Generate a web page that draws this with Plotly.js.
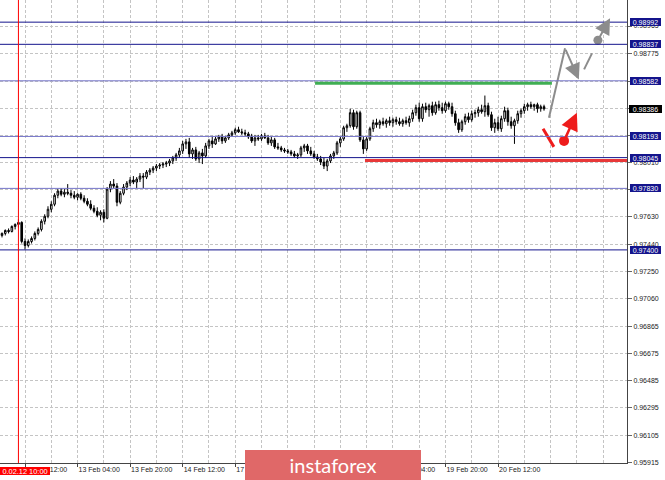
<!DOCTYPE html>
<html>
<head>
<meta charset="utf-8">
<script src="https://cdn.plot.ly/plotly-3.0.1.min.js"></script>
<style>
  html,body{margin:0;padding:0;background:#fff;}
  #chart{width:665px;height:480px;}
</style>
</head>
<body>
<div id="chart"></div>
<script>
// ---- H1 candles (bar index 0 = 12 Feb 12:00) ----
const firstBarIndex = -7;
const openP = [
0.97501,0.97515,0.97536,0.97529,0.97564,0.97578,0.97592,0.97459,0.97431,0.97459,
0.97480,0.97515,0.97543,0.97600,0.97635,0.97684,0.97719,0.97782,0.97811,0.97789,
0.97803,0.97796,0.97782,0.97768,0.97789,0.97761,0.97740,0.97719,0.97691,0.97670,
0.97642,0.97663,0.97621,0.97825,0.97860,0.97846,0.97733,0.97796,0.97839,0.97867,
0.97888,0.97874,0.97895,0.97916,0.97909,0.97944,0.97958,0.97972,0.97986,0.97993,
0.98000,0.98007,0.98022,0.98043,0.98064,0.98092,0.98141,0.98155,0.98071,0.98099,
0.98036,0.98078,0.98057,0.98127,0.98162,0.98141,0.98176,0.98190,0.98162,0.98183,
0.98204,0.98218,0.98240,0.98225,0.98218,0.98211,0.98190,0.98162,0.98183,0.98176,
0.98197,0.98183,0.98148,0.98169,0.98120,0.98113,0.98099,0.98092,0.98085,0.98071,
0.98057,0.98064,0.98113,0.98127,0.98092,0.98071,0.98050,0.98036,0.98014,0.97986,
0.98022,0.98057,0.98078,0.98148,0.98176,0.98254,0.98268,0.98359,0.98261,0.98359,
0.98169,0.98106,0.98176,0.98247,0.98289,0.98275,0.98296,0.98282,0.98303,0.98289,
0.98310,0.98296,0.98282,0.98303,0.98289,0.98317,0.98359,0.98394,0.98317,0.98401,
0.98380,0.98408,0.98359,0.98415,0.98394,0.98373,0.98422,0.98401,0.98352,0.98289,
0.98240,0.98296,0.98331,0.98310,0.98352,0.98359,0.98380,0.98366,0.98408,0.98345,
0.98254,0.98289,0.98247,0.98317,0.98373,0.98296,0.98268,0.98303,0.98352,0.98373,
0.98401,0.98415,0.98401,0.98415,0.98387,0.98401];
const highP = [
0.97522,0.97543,0.97550,0.97571,0.97585,0.97614,0.97600,0.97480,0.97473,0.97494,
0.97529,0.97557,0.97614,0.97649,0.97705,0.97740,0.97796,0.97825,0.97832,0.97825,
0.97860,0.97818,0.97811,0.97796,0.97803,0.97782,0.97761,0.97747,0.97712,0.97698,
0.97677,0.97684,0.97839,0.97881,0.97895,0.97867,0.97811,0.97860,0.97881,0.97909,
0.97916,0.97909,0.97937,0.97937,0.97958,0.97972,0.97986,0.98000,0.98007,0.98014,
0.98022,0.98036,0.98057,0.98078,0.98113,0.98162,0.98176,0.98183,0.98113,0.98120,
0.98092,0.98106,0.98148,0.98176,0.98197,0.98190,0.98204,0.98211,0.98197,0.98218,
0.98232,0.98254,0.98261,0.98247,0.98240,0.98225,0.98211,0.98204,0.98204,0.98211,
0.98218,0.98204,0.98190,0.98183,0.98148,0.98127,0.98113,0.98106,0.98099,0.98092,
0.98078,0.98127,0.98141,0.98141,0.98120,0.98092,0.98071,0.98057,0.98043,0.98036,
0.98071,0.98092,0.98162,0.98190,0.98268,0.98282,0.98387,0.98380,0.98373,0.98373,
0.98197,0.98190,0.98261,0.98310,0.98317,0.98310,0.98324,0.98317,0.98331,0.98324,
0.98331,0.98324,0.98317,0.98331,0.98338,0.98380,0.98415,0.98429,0.98422,0.98429,
0.98422,0.98436,0.98436,0.98443,0.98429,0.98436,0.98436,0.98429,0.98373,0.98317,
0.98310,0.98352,0.98359,0.98373,0.98380,0.98401,0.98415,0.98479,0.98429,0.98366,
0.98317,0.98331,0.98338,0.98401,0.98394,0.98331,0.98317,0.98373,0.98387,0.98422,
0.98429,0.98436,0.98422,0.98429,0.98415,0.98415];
const lowP = [
0.97487,0.97501,0.97515,0.97522,0.97543,0.97557,0.97445,0.97402,0.97417,0.97445,
0.97466,0.97501,0.97529,0.97578,0.97621,0.97663,0.97705,0.97761,0.97775,0.97768,
0.97782,0.97761,0.97754,0.97747,0.97747,0.97726,0.97705,0.97677,0.97656,0.97628,
0.97607,0.97592,0.97614,0.97803,0.97832,0.97705,0.97719,0.97782,0.97818,0.97846,
0.97860,0.97832,0.97874,0.97832,0.97895,0.97923,0.97937,0.97951,0.97965,0.97972,
0.97979,0.97986,0.98000,0.98022,0.98043,0.98071,0.98106,0.98043,0.98036,0.98022,
0.98007,0.98000,0.98043,0.98106,0.98113,0.98134,0.98155,0.98141,0.98148,0.98169,
0.98190,0.98204,0.98218,0.98204,0.98197,0.98176,0.98148,0.98127,0.98162,0.98162,
0.98176,0.98134,0.98127,0.98106,0.98099,0.98085,0.98078,0.98071,0.98057,0.98043,
0.98036,0.98050,0.98085,0.98071,0.98057,0.98036,0.98022,0.97993,0.97965,0.97951,
0.98007,0.98036,0.98064,0.98120,0.98162,0.98225,0.98254,0.98240,0.98247,0.98155,
0.98071,0.98092,0.98162,0.98225,0.98254,0.98247,0.98268,0.98254,0.98268,0.98261,
0.98275,0.98268,0.98261,0.98275,0.98261,0.98296,0.98338,0.98296,0.98296,0.98359,
0.98331,0.98338,0.98345,0.98373,0.98352,0.98359,0.98380,0.98331,0.98268,0.98218,
0.98225,0.98275,0.98289,0.98296,0.98324,0.98331,0.98352,0.98331,0.98331,0.98232,
0.98218,0.98232,0.98225,0.98296,0.98268,0.98247,0.98141,0.98282,0.98324,0.98352,
0.98373,0.98387,0.98373,0.98359,0.98366,0.98373];
const closeP = [
0.97515,0.97536,0.97529,0.97564,0.97578,0.97592,0.97459,0.97431,0.97459,0.97480,
0.97515,0.97543,0.97600,0.97635,0.97684,0.97719,0.97782,0.97811,0.97789,0.97803,
0.97796,0.97782,0.97768,0.97789,0.97761,0.97740,0.97719,0.97691,0.97670,0.97642,
0.97663,0.97621,0.97825,0.97860,0.97846,0.97733,0.97796,0.97839,0.97867,0.97888,
0.97874,0.97895,0.97916,0.97909,0.97944,0.97958,0.97972,0.97986,0.97993,0.98000,
0.98007,0.98022,0.98043,0.98064,0.98092,0.98141,0.98155,0.98071,0.98099,0.98036,
0.98078,0.98057,0.98127,0.98162,0.98141,0.98176,0.98190,0.98162,0.98183,0.98204,
0.98218,0.98240,0.98225,0.98218,0.98211,0.98190,0.98162,0.98183,0.98176,0.98197,
0.98183,0.98148,0.98169,0.98120,0.98113,0.98099,0.98092,0.98085,0.98071,0.98057,
0.98064,0.98113,0.98127,0.98092,0.98071,0.98050,0.98036,0.98014,0.97986,0.98022,
0.98057,0.98078,0.98148,0.98176,0.98254,0.98268,0.98359,0.98261,0.98359,0.98169,
0.98106,0.98176,0.98247,0.98289,0.98275,0.98296,0.98282,0.98303,0.98289,0.98310,
0.98296,0.98282,0.98303,0.98289,0.98317,0.98359,0.98394,0.98317,0.98401,0.98380,
0.98408,0.98359,0.98415,0.98394,0.98373,0.98422,0.98401,0.98352,0.98289,0.98240,
0.98296,0.98331,0.98310,0.98352,0.98359,0.98380,0.98366,0.98408,0.98345,0.98254,
0.98289,0.98247,0.98317,0.98373,0.98296,0.98268,0.98303,0.98352,0.98373,0.98401,
0.98415,0.98401,0.98415,0.98387,0.98401,0.98386];

// ---- axis labels ----
const xTickLabels = ["12 Feb 12:00","13 Feb 04:00","13 Feb 20:00","14 Feb 12:00","17 Feb 04:00",
                     "17 Feb 20:00","18 Feb 12:00","19 Feb 04:00","19 Feb 20:00","20 Feb 12:00"];
const barsPerLabel = 16;
const barsPerGrid = 8;
// grid prices; labels hidden behind level boxes are left blank
const yGridValues = [0.95915,0.96105,0.96295,0.96485,0.96675,0.96865,0.97060,0.97250,
                     0.97440,0.97630,0.97820,0.98010,0.98200,0.98390,0.98580,0.98775,0.98965];
const yTickLabels = ["0.95915","0.96105","0.96295","0.96485","0.96675","0.96865","0.97060","0.97250",
                     "0.97440","0.97630","","0.98010","","","","0.98775","0.98965"];

// ---- horizontal levels ----
const levels      = [0.98992, 0.98837, 0.98582, 0.98193, 0.98045, 0.97830, 0.97400];
const levelKinds  = ["dark","dark","light","light","dark","light","dark"];
const currentPrice = 0.98386;
const cursorBar = -2;                 // 12 Feb 10:00 vertical line
const cursorLabel = "0.02.12 10:00";

// ---- zones (bar index from/to, price) ----
const greenZone = {from: 88.3, to: 160.4, price: 0.98565};
const redZone   = {from: 103.5, to: 184, price: 0.98025};

// ---- forecast arrows (bar index, price) ----
const grayPathX = [159.5, 164.4];
const grayPathY = [0.98324, 0.98809];
const grayHead1 = {x: 168.6, y: 0.98591};
const grayDashX = [170.2, 172.6];
const grayDashY = [0.98662, 0.98774];
const grayDot   = {x: 174.4, y: 0.98866};
const grayHead2 = {x: 178.1, y: 0.99020};
const redSegX = [157.7, 161.0];
const redSegY = [0.98247, 0.98120];
const redDot  = {x: 164.1, y: 0.98162};
const redHead = {x: 168.0, y: 0.98359};

const xIdx = openP.map((_, k) => k + firstBarIndex);
const FONT = "Liberation Sans, Arial, sans-serif";
const FS = 7;
const DARK = "#14148c", LIGHT = "#7474c8", GRAY = "#8c8c8c", RED = "#ee1c1c";

const traces = [
  {
    type: "candlestick", x: xIdx, open: openP, high: highP, low: lowP, close: closeP,
    increasing: {line: {color: "#000", width: 1}, fillcolor: "#ffffff"},
    decreasing: {line: {color: "#000", width: 1}, fillcolor: "#000000"},
    whiskerwidth: 0, hoverinfo: "skip", showlegend: false
  },
  {type: "scatter", mode: "lines", x: grayPathX, y: grayPathY, line: {color: GRAY, width: 2}, hoverinfo: "skip", showlegend: false},
  {type: "scatter", mode: "lines", x: grayDashX, y: grayDashY, line: {color: GRAY, width: 2}, hoverinfo: "skip", showlegend: false},
  {type: "scatter", mode: "markers", x: [grayDot.x], y: [grayDot.y], marker: {color: GRAY, size: 9}, hoverinfo: "skip", showlegend: false},
  {type: "scatter", mode: "lines", x: redSegX, y: redSegY, line: {color: RED, width: 3}, hoverinfo: "skip", showlegend: false},
  {type: "scatter", mode: "markers", x: [redDot.x], y: [redDot.y], marker: {color: RED, size: 10}, hoverinfo: "skip", showlegend: false}
];

const shapes = [];
levels.forEach((lv, k) => {
  shapes.push({type: "line", xref: "paper", x0: 0, x1: 1, yref: "y", y0: lv, y1: lv,
               line: {color: levelKinds[k] === "dark" ? DARK : LIGHT, width: 1}, layer: "above"});
});
shapes.push({type: "line", xref: "x", x0: greenZone.from, x1: greenZone.to, yref: "y", y0: greenZone.price, y1: greenZone.price,
             line: {color: "#3fae52", width: 3}, layer: "above"});
shapes.push({type: "line", xref: "x", x0: redZone.from, x1: redZone.to, yref: "y", y0: redZone.price, y1: redZone.price,
             line: {color: "#e83838", width: 3}, layer: "above"});
shapes.push({type: "line", xref: "x", x0: cursorBar, x1: cursorBar, yref: "paper", y0: 0, y1: 1,
             line: {color: "#ff0000", width: 1}, layer: "above"});

const annotations = [];
levels.forEach((lv) => {
  annotations.push({xref: "paper", x: 1, xanchor: "left", xshift: 3, yref: "y", y: lv, yanchor: "middle",
    text: lv.toFixed(5), showarrow: false, bgcolor: DARK, width: 31, height: 8, borderpad: 0, borderwidth: 0,
    font: {family: FONT, size: FS, color: "#fff"}});
});
annotations.push({xref: "paper", x: 1, xanchor: "left", xshift: 2, yref: "y", y: currentPrice, yanchor: "middle",
  text: currentPrice.toFixed(5), showarrow: false, bgcolor: "#000", width: 33, height: 8, borderpad: 0, borderwidth: 0,
  font: {family: FONT, size: FS, color: "#fff"}});
annotations.push({xref: "paper", x: 0, xanchor: "left", yref: "paper", y: -0.0168, yanchor: "middle",
  text: cursorLabel, showarrow: false, bgcolor: "#ff0000", width: 50, height: 8, borderpad: 0, borderwidth: 0,
  font: {family: FONT, size: 7.4, color: "#fff"}});
// arrow heads
annotations.push({x: grayHead1.x, y: grayHead1.y, ax: grayPathX[1], ay: grayPathY[1], xref: "x", yref: "y", axref: "x", ayref: "y",
  text: "", showarrow: true, arrowhead: 2, arrowsize: 1.6, arrowwidth: 2, arrowcolor: GRAY, standoff: 0, startstandoff: 0});
annotations.push({x: grayHead2.x, y: grayHead2.y, ax: grayDot.x, ay: grayDot.y, xref: "x", yref: "y", axref: "x", ayref: "y",
  text: "", showarrow: true, arrowhead: 2, arrowsize: 1.6, arrowwidth: 2, arrowcolor: GRAY, standoff: 0, startstandoff: 0});
annotations.push({x: redHead.x, y: redHead.y, ax: redDot.x, ay: redDot.y, xref: "x", yref: "y", axref: "x", ayref: "y",
  text: "", showarrow: true, arrowhead: 2, arrowsize: 1.4, arrowwidth: 2.5, arrowcolor: RED, standoff: 0, startstandoff: 0});
// watermark
annotations.push({xref: "paper", x: 0.5311, xanchor: "center", yref: "paper", y: -0.0035, yanchor: "middle",
  text: "instaforex", showarrow: false, bgcolor: "#e06868", width: 176, height: 30, borderpad: 0, borderwidth: 0,
  font: {family: "Lato, Open Sans, sans-serif", size: 20, color: "#ffffff"}});

const layout = {
  width: 665, height: 480,
  margin: {l: 0, r: 38, t: 0, b: 17, pad: 0},
  paper_bgcolor: "#fff", plot_bgcolor: "#fff",
  showlegend: false, dragmode: false,
  font: {family: FONT, size: FS, color: "#222"},
  xaxis: {
    type: "linear", range: [-7.61, 183.26], fixedrange: true,
    rangeslider: {visible: false},
    tickmode: "array",
    tickvals: xTickLabels.map((_, k) => k * barsPerLabel),
    ticktext: xTickLabels,
    ticks: "outside", ticklen: 3, tickcolor: "#444", tickwidth: 1,
    ticklabelposition: "outside right",
    tickfont: {family: FONT, size: FS, color: "#1a1a1a"},
    showgrid: true, gridcolor: "#c4c4c4", gridwidth: 1, griddash: "3px,2px",
    minor: {tick0: 0, dtick: barsPerGrid, showgrid: true, gridcolor: "#c4c4c4", gridwidth: 1, griddash: "3px,2px", ticks: ""},
    zeroline: false, showline: true, linecolor: "#444", linewidth: 1
  },
  yaxis: {
    side: "right", range: [0.959104, 0.991468], fixedrange: true,
    tickmode: "array",
    tickvals: yGridValues,
    ticktext: yTickLabels,
    ticks: "outside", ticklen: 4, tickcolor: "#666", tickwidth: 1,
    tickfont: {family: FONT, size: FS, color: "#1a1a1a"},
    showgrid: true, gridcolor: "#c4c4c4", gridwidth: 1, griddash: "3px,2px",
    zeroline: false, showline: true, linecolor: "#444", linewidth: 1
  },
  shapes: shapes,
  annotations: annotations
};

Plotly.newPlot("chart", traces, layout, {displayModeBar: false, staticPlot: true});
</script>
</body>
</html>
